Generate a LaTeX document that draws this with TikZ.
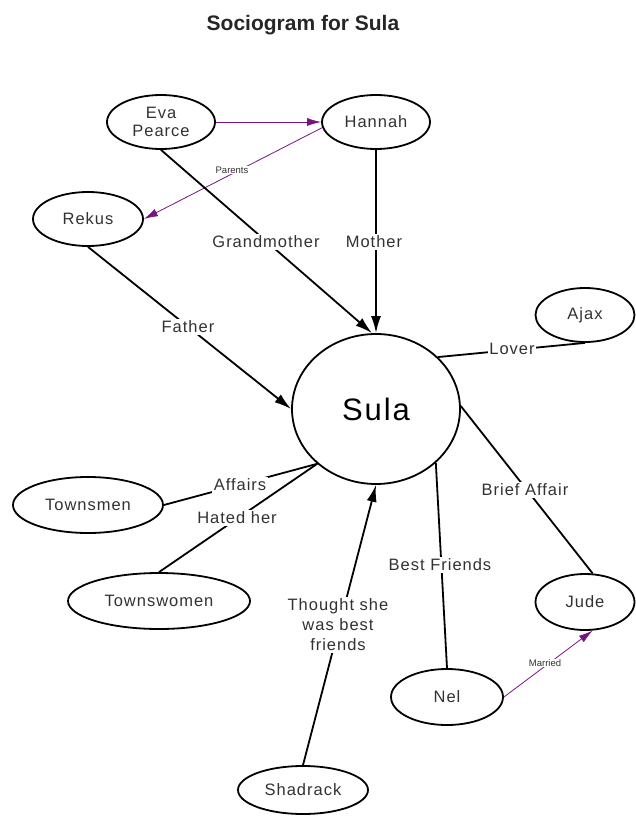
\documentclass[tikz,border=0pt]{standalone}
\usepackage{fontspec}
\setmainfont{Liberation Sans}
\newfontfamily\labfont[LetterSpace=6]{Liberation Sans}
\usetikzlibrary{shapes.geometric,arrows.meta}
\definecolor{txt}{RGB}{50,50,50}
\definecolor{purp}{RGB}{120,20,130}
\begin{document}
\begin{tikzpicture}[x=1pt,y=-1pt,
  person/.style={ellipse,draw=black,line width=1.8pt,inner sep=0pt,align=center,
     text=txt,font=\labfont\fontsize{16.5}{18.5}\selectfont},
  lab/.style={fill=white,inner sep=1.5pt,text=txt,align=center,
     font=\labfont\fontsize{16.5}{20}\selectfont},
  small/.style={fill=white,inner sep=1pt,text=txt,font=\fontsize{9.5}{10}\selectfont},
  rel/.style={line width=1.8pt,draw=black},
  relarrow/.style={rel,-{Latex[length=17pt,width=10pt]}},
  fam/.style={line width=0.8pt,draw=purp,-{Latex[length=14pt,width=8pt]}}]
\useasboundingbox (0,0) rectangle (635,816);
\node[font=\bfseries\fontsize{21}{24}\selectfont,text=black!85] (title) at (303,25) {Sociogram for Sula};
% people
\node[person,minimum width=108pt,minimum height=54pt] (eva) at (161,122) {Eva\\Pearce};
\node[person,minimum width=108pt,minimum height=54pt] (hannah) at (376,122) {Hannah};
\node[person,minimum width=110pt,minimum height=54pt] (rekus) at (88,219) {Rekus};
\node[person,minimum width=168pt,minimum height=150pt,font=\labfont\fontsize{31}{34}\selectfont,text=black] (sula) at (376,409) {Sula};
\node[person,minimum width=99pt,minimum height=54pt] (ajax) at (585,315) {Ajax};
\node[person,minimum width=150pt,minimum height=56pt] (townsmen) at (88,505) {Townsmen};
\node[person,minimum width=182pt,minimum height=56pt] (townswomen) at (159,601) {Townswomen};
\node[person,minimum width=99pt,minimum height=56pt] (jude) at (585,602) {Jude};
\node[person,minimum width=112pt,minimum height=56pt] (nel) at (447,697) {Nel};
\node[person,minimum width=130pt,minimum height=48pt] (shadrack) at (303,790) {Shadrack};
% connectors
\draw[fam] (eva.east) -- (hannah.west);
\draw[fam] (hannah.186) -- (rekus.east);
\draw[relarrow] (eva.south) -- (sula.93);
\draw[relarrow] (hannah.south) -- (sula.north);
\draw[relarrow] (rekus.south) -- (sula.west);
\draw[rel] (sula.40) -- (ajax.south);
\draw[rel] (sula.2) -- (jude.75);
\draw[rel] (sula.318) -- (nel.north);
\draw[rel] (townsmen.east) -- (sula.223);
\draw[rel] (townswomen.north) -- (sula.223);
\draw[relarrow] (shadrack.north) -- (sula.south);
\draw[fam] (nel.east) -- (jude.-75);
% labels
\node[small] (parents) at (232,170) {Parents};
\node[lab] (grand) at (266,242) {Grandmother};
\node[lab] (mother) at (374,242) {Mother};
\node[lab] (father) at (188,327) {Father};
\node[lab] (lover) at (512,349) {Lover};
\node[lab] (affairs) at (240,485) {Affairs};
\node[lab] (hated) at (237,518) {Hated her};
\node[lab] (brief) at (525,490) {Brief Affair};
\node[lab] (best) at (440,565) {Best Friends};
\node[lab] (thought) at (338,625) {Thought she\\was best\\friends};
\node[small] (married) at (545,663) {Married};
\end{tikzpicture}
\end{document}
